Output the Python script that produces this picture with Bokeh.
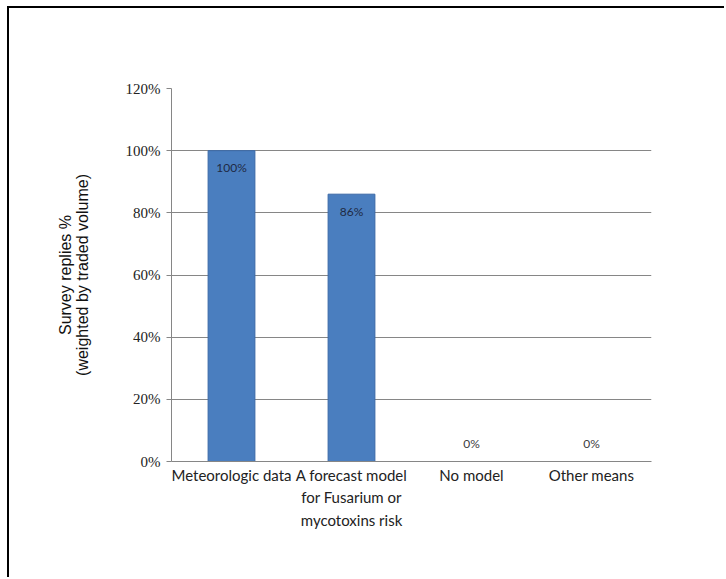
from bokeh.plotting import figure
from bokeh.models import FactorRange, Range1d, NumeralTickFormatter, FixedTicker, ColumnDataSource
from bokeh.core.properties import value
from bokeh.embed import file_html
from bokeh.resources import INLINE

categories = ["Meteorologic data",
              "A forecast model\nfor Fusarium or\nmycotoxins risk",
              "No model",
              "Other means"]
values = [1.00, 0.86, 0.0, 0.0]
labels = ["100%", "86%", "0%", "0%"]
y_ticks = [0, 0.2, 0.4, 0.6, 0.8, 1.0, 1.2]

offsets = [17 if v > 0 else -18 for v in values]
colors = ["#1f2a44" if v > 0 else "#404040" for v in values]
src = ColumnDataSource(dict(cat=categories, val=values, lab=labels, off=offsets, col=colors))

p = figure(x_range=FactorRange(*categories, range_padding=0),
           y_range=Range1d(0, 1.2),
           width=717, height=571,
           output_backend="svg", toolbar_location=None,
           min_border_left=162, min_border_right=75,
           min_border_top=80, min_border_bottom=118)
p.margin = (6, 0, 0, 7)
p.styles = {"border-top": "2px solid #000", "border-left": "2px solid #000"}
p.outline_line_color = None
p.background_fill_color = "white"
p.border_fill_color = "white"

p.vbar(x="cat", top="val", width=0.39, source=src,
       fill_color="#4a7ebf", line_color="#3b69a6", line_width=1)

p.text(x="cat", y="val", text="lab", source=src, y_offset="off",
       text_align="center", text_baseline="middle",
       text_font=value("Lato"), text_font_size="12px", text_color="col")

p.xgrid.grid_line_color = None
p.ygrid.grid_line_color = "#868686"
p.ygrid.grid_line_width = 1
p.yaxis.ticker = FixedTicker(ticks=y_ticks)
p.yaxis.formatter = NumeralTickFormatter(format="0%")
p.yaxis.major_label_text_font = "Liberation Serif"
p.yaxis.major_label_text_font_size = "15px"
p.yaxis.major_label_text_color = "#222222"
p.yaxis.axis_line_color = "#868686"
p.yaxis.major_tick_line_color = "#868686"
p.yaxis.major_tick_out = 5
p.yaxis.major_tick_in = 0
p.yaxis.minor_tick_line_color = None
p.yaxis.major_label_standoff = 6
p.yaxis.axis_label = "Survey replies %\n(weighted by traded volume)"
p.yaxis.axis_label_text_font = "Liberation Sans"
p.yaxis.axis_label_text_font_style = "normal"
p.yaxis.axis_label_text_font_size = "16px"
p.yaxis.axis_label_text_line_height = 1.0
p.yaxis.axis_label_text_color = "#111111"
p.yaxis.axis_label_standoff = 32

p.xaxis.axis_line_color = "#868686"
p.xaxis.major_tick_line_color = None
p.xaxis.major_label_text_font = "Lato"
p.xaxis.major_label_text_font_size = "15px"
p.xaxis.major_label_text_line_height = 1.25
p.xaxis.major_label_text_color = "#222222"
p.xaxis.major_label_standoff = -2

with open("out.html", "w") as f:
    f.write(file_html(p, INLINE))
